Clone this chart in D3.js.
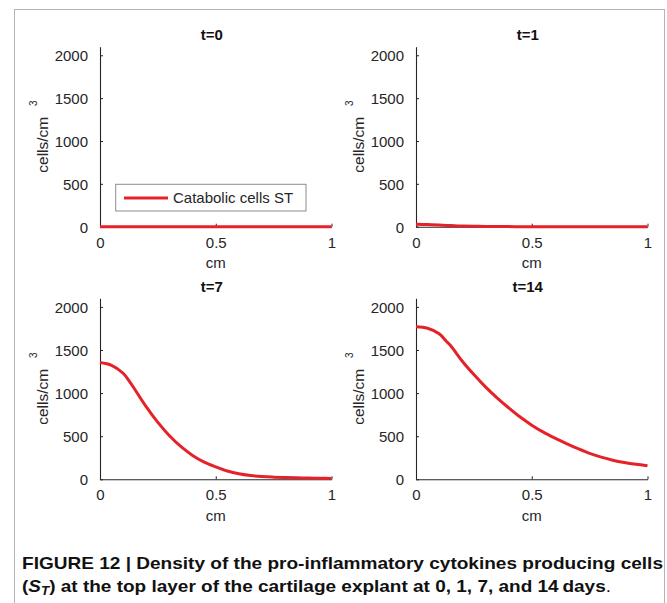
<!DOCTYPE html>
<html><head><meta charset="utf-8">
<script src="https://cdn.jsdelivr.net/npm/d3@7"></script>
<style>
body{margin:0;background:#fff;}
svg{display:block;font-family:"Liberation Sans",Arial,Helvetica,sans-serif;}
</style></head>
<body>
<svg id="chart" width="667" height="603"></svg>
<script>
// ---- data ----
const positions = [0,0.05,0.1,0.13,0.15,0.2,0.25,0.3,0.35,0.4,0.45,0.5,0.55,0.6,0.65,0.7,0.75,0.8,0.85,0.9,0.95,1.0];
const panelTitles = ["t=0","t=1","t=7","t=14"];
const cellsT0  = [0,0,0,0,0,0,0,0,0,0,0,0,0,0,0,0,0,0,0,0,0,0];
const cellsT1  = [30,25,19,15,13,8,5,3,2,1,0.5,0,0,0,0,0,0,0,0,0,0,0];
const cellsT7  = [1355,1322,1230,1125,1045,840,660,505,378,277,200,145,97,64,44,32,25,20,17,15,12,10];
const cellsT14 = [1770,1752,1688,1605,1550,1370,1215,1072,945,830,722,628,547,478,415,355,300,257,222,195,174,158];
const seriesList = [cellsT0, cellsT1, cellsT7, cellsT14];
const xTicks = [0,0.5,1];
const xTickLabels = ["0","0.5","1"];
const yTicks = [0,500,1000,1500,2000];
const legendLabel = "Catabolic cells ST";
const captionLine1 = "FIGURE 12 | Density of the pro-inflammatory cytokines producing cells";

// ---- layout ----
const svg = d3.select("#chart");
const ink = "#262626", red = "#e52229";
svg.append("rect").attr("x",14.5).attr("y",9.5).attr("width",650).attr("height",620)
  .attr("fill","none").attr("stroke","#b4b4b4").attr("stroke-width",1);

const panels = [
  {x0:100, x1:331.5, y0:46.7, y1:226.7},
  {x0:416, x1:647.5, y0:46.7, y1:226.7},
  {x0:100, x1:331.5, y0:298.3, y1:479.3},
  {x0:416, x1:647.5, y0:298.3, y1:479.3}
];

panels.forEach((p,i)=>{
  const x = d3.scaleLinear().domain([0,1]).range([p.x0,p.x1]);
  const y = d3.scaleLinear().domain([0,2100]).range([p.y1,p.y0]);
  const g = svg.append("g");

  // x axis
  const xa = g.append("g").attr("transform",`translate(0,${p.y1})`)
    .call(d3.axisBottom(x).tickValues(xTicks).tickFormat((d,k)=>xTickLabels[k]).tickSizeInner(-3).tickSizeOuter(0).tickPadding(8));
  // y axis
  const ya = g.append("g").attr("transform",`translate(${p.x0},0)`)
    .call(d3.axisLeft(y).tickValues(yTicks).tickFormat(d3.format("d")).tickSizeInner(-3).tickSizeOuter(0).tickPadding(12));
  [xa,ya].forEach(a=>{
    a.select(".domain").attr("stroke",ink).attr("stroke-width",1.1);
    a.selectAll(".tick line").attr("stroke",ink).attr("stroke-width",1);
    a.selectAll(".tick text").attr("fill",ink).style("font-size","15px")
      .style("font-family",'"Liberation Sans",Arial,sans-serif');
  });
  xa.selectAll(".tick text").attr("dy","0.87em");
  ya.selectAll(".tick text").attr("dy","0.36em");

  // title
  g.append("text").attr("x",(p.x0+p.x1)/2-4).attr("y",p.y0-6.5)
    .attr("text-anchor","middle").attr("font-weight","bold").attr("font-size",15).attr("fill","#111")
    .text(panelTitles[i]);
  // x label
  g.append("text").attr("x",(p.x0+p.x1)/2).attr("y",p.y1+41.5)
    .attr("text-anchor","middle").attr("font-size",15).attr("fill",ink).text("cm");
  // y label
  const cy = (p.y0+p.y1)/2;
  const yl = g.append("g").attr("transform",`translate(${p.x0-52},${cy}) rotate(-90)`);
  yl.append("text").attr("x",-36).attr("y",0).attr("font-size",15.5).attr("fill",ink).text("cells/cm");
  yl.append("text").attr("x",33.5).attr("y",-11).attr("text-anchor","middle").attr("font-size",10).attr("fill",ink).text("3");

  // line
  const data = positions.map((d,k)=>[d, seriesList[i][k]]);
  g.append("path").datum(data)
    .attr("fill","none").attr("stroke",red).attr("stroke-width",3).attr("stroke-linejoin","round")
    .attr("d", d3.line().x(d=>x(d[0])).y(d=>y(d[1])).curve(d3.curveCatmullRom.alpha(0.5)));

  // legend in first panel
  if(i===0){
    const lg = g.append("g");
    lg.append("rect").attr("x",115.7).attr("y",184.3).attr("width",190.3).attr("height",26.7)
      .attr("fill","#fff").attr("stroke","#8c8c8c").attr("stroke-width",1);
    lg.append("line").attr("x1",124).attr("x2",168).attr("y1",198).attr("y2",198)
      .attr("stroke",red).attr("stroke-width",3);
    lg.append("text").attr("x",173).attr("y",203.3).attr("font-size",15).attr("fill",ink).text(legendLabel);
  }
});

// caption
const cap = svg.append("g").attr("font-weight","bold").attr("fill","#111")
  .style("font-family",'"Liberation Sans",Arial,sans-serif');
cap.append("text").attr("x",22).attr("y",569).attr("font-size",17)
  .attr("textLength",641).attr("lengthAdjust","spacingAndGlyphs").text(captionLine1);
const l2 = cap.append("text").attr("x",22).attr("y",592).attr("font-size",17)
  .attr("textLength",589).attr("lengthAdjust","spacingAndGlyphs");
l2.append("tspan").text("(");
l2.append("tspan").attr("font-style","italic").text("S");
l2.append("tspan").attr("font-style","italic").attr("font-size",12).attr("dy",3).text("T");
l2.append("tspan").attr("dy",-3).text(") at the top layer of the cartilage explant at 0, 1, 7, and 14\u2009days");
l2.append("tspan").attr("font-weight","normal").text(".");
</script>
</body></html>
